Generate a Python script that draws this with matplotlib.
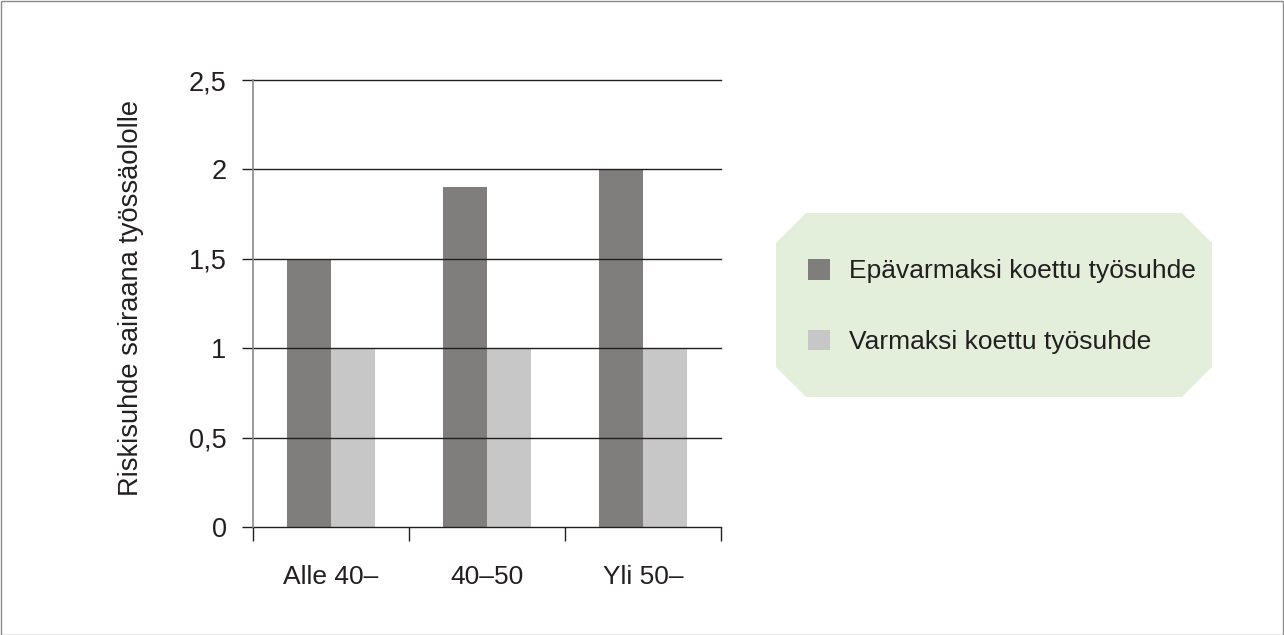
import matplotlib
matplotlib.use("Agg")
import matplotlib.pyplot as plt
import numpy as np
from matplotlib.patches import Polygon, Rectangle

categories = ["Alle 40–", "40–50", "Yli 50–"]
series_names = ["Epävarmaksi koettu työsuhde", "Varmaksi koettu työsuhde"]
uncertain = [1.5, 1.9, 2.0]
certain = [1.0, 1.0, 1.0]
yticks = [0, 0.5, 1, 1.5, 2, 2.5]
ytick_labels = ["0", "0,5", "1", "1,5", "2", "2,5"]
ylabel = "Riskisuhde sairaana työssäololle"

plt.rcParams['font.family'] = ['Liberation Sans', 'DejaVu Sans']
W, H = 1284, 635
fig = plt.figure(figsize=(W/100, H/100), dpi=100)
txt = '#231f20'
FS = 19

# figure border
fig.patches.append(Rectangle((0.5/W, 0.5/H), 1 - 1.5/W, 1 - 1.5/H, transform=fig.transFigure,
                             fill=False, edgecolor='#8a8a8a', linewidth=1.0))

ax = fig.add_axes([253/W, 108/H, 468/W, 447/H])
x = np.arange(len(categories))
bw = 0.282
c_dark = '#7f7e7d'
c_light = '#c7c7c7'
ax.bar(x - bw/2, uncertain, bw, color=c_dark, label=series_names[0], zorder=1)
ax.bar(x + bw/2, certain, bw, color=c_light, label=series_names[1], zorder=1)

ax.set_xlim(-0.5, len(categories) - 0.5)
ax.set_ylim(0, 2.5)
ax.set_yticks(yticks)
ax.set_yticklabels(ytick_labels)
for y in yticks:
    ax.axhline(y, color=txt, linewidth=1.0, zorder=2, clip_on=False)
ax.set_xticks(x)
ax.set_xticklabels(categories)
ax.set_xticks(np.arange(len(categories) + 1) - 0.5, minor=True)
ax.tick_params(axis='x', which='major', length=0, pad=27, labelsize=FS, labelcolor=txt)
ax.tick_params(axis='x', which='minor', length=10, width=1.0, color=txt)
ax.tick_params(axis='y', length=8, width=1.0, color=txt, pad=11, labelsize=FS + 0.5, labelcolor=txt)
for s in ['top', 'right', 'bottom']:
    ax.spines[s].set_visible(False)
ax.spines['left'].set_color('#8a8a8a')
ax.spines['left'].set_linewidth(1.2)
fig.text(131/W, 1 - 297.5/H, ylabel, rotation=90, ha='center', va='center',
         fontsize=19.6, color=txt)

# legend background polygon (cut corners)
x0, x1, y0, y1, c = 776, 1212, 213, 397, 30
pts = [(x0 + c, y0), (x1 - c, y0), (x1, y0 + c), (x1, y1 - c), (x1 - c, y1),
       (x0 + c, y1), (x0, y1 - c), (x0, y0 + c)]
pts = [(px / W, 1 - py / H) for px, py in pts]
fig.patches.append(Polygon(pts, closed=True, transform=fig.transFigure,
                           facecolor='#e3efdb', edgecolor='none'))

leg = fig.legend(loc='center left', bbox_to_anchor=(808/W, 1 - 306.5/H), frameon=False,
                 fontsize=FS, handlelength=0.83, handleheight=0.83, handletextpad=0.72,
                 labelspacing=1.75, borderpad=0, borderaxespad=0)
for t in leg.get_texts():
    t.set_color(txt)

fig.savefig("out.png", dpi=100)
